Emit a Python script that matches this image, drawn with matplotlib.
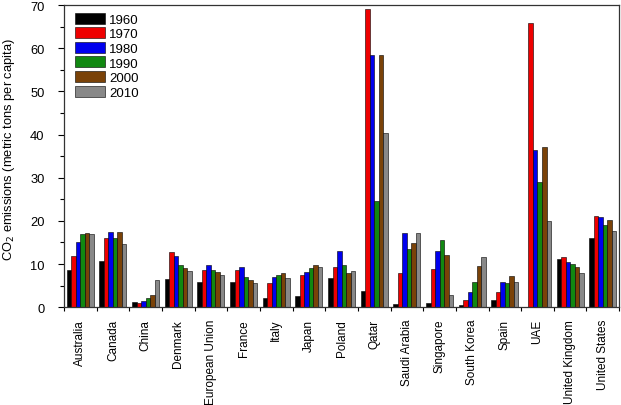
import numpy as np
import matplotlib
matplotlib.use("Agg")
import matplotlib.pyplot as plt
from matplotlib.ticker import MultipleLocator, FixedLocator

plt.rcParams['font.family'] = ['Liberation Sans', 'DejaVu Sans']

# data (metric tons per capita)
countries = ['Australia', 'Canada', 'China', 'Denmark', 'European Union', 'France',
             'Italy', 'Japan', 'Poland', 'Qatar', 'Saudi Arabia', 'Singapore',
             'South Korea', 'Spain', 'UAE', 'United Kingdom', 'United States']
years = ['1960', '1970', '1980', '1990', '2000', '2010']

y1960 = [8.6, 10.8, 1.2, 6.6, 5.8, 5.9, 2.2, 2.6, 6.8, 3.7, 0.7, 0.85, 0.5, 1.6, 0.1, 11.2, 16.1]
y1970 = [11.9, 16.1, 0.9, 12.7, 8.5, 8.6, 5.6, 7.4, 9.4, 69.2, 7.9, 8.8, 1.7, 3.5, 65.8, 11.7, 21.1]
y1980 = [15.1, 17.5, 1.5, 11.8, 9.8, 9.2, 7.0, 8.2, 13.1, 58.5, 17.2, 13.1, 3.6, 5.8, 36.4, 10.4, 20.8]
y1990 = [16.9, 16.1, 2.2, 9.7, 8.7, 6.9, 7.4, 9.0, 9.7, 24.7, 13.4, 15.5, 5.8, 5.6, 28.9, 10.0, 19.1]
y2000 = [17.3, 17.4, 2.8, 9.0, 8.1, 6.2, 8.0, 9.7, 7.9, 58.5, 14.8, 12.2, 9.6, 7.3, 37.2, 9.3, 20.3]
y2010 = [17.0, 14.7, 6.3, 8.4, 7.4, 5.6, 6.8, 9.3, 8.3, 40.3, 17.1, 2.8, 11.6, 5.9, 19.9, 8.0, 17.6]

series = [y1960, y1970, y1980, y1990, y2000, y2010]
colors = ['#000000', '#ee0000', '#0000ee', '#118811', '#7a4208', '#888888']

fig = plt.figure(figsize=(6.21, 4.06), dpi=100)
ax = fig.add_axes([0.103, 0.241, 0.894, 0.744])

x = np.arange(len(countries))
w = 0.138
for i, (vals, c) in enumerate(zip(series, colors)):
    ax.bar(x + (i - 2.5) * w, vals, width=w, color=c, edgecolor='black',
           linewidth=0.4, label=years[i])

ax.set_xlim(-0.5, len(countries) - 0.5)
ax.set_ylim(0, 70)
ax.set_xticks(x)
ax.set_xticklabels(countries, rotation=90, fontsize=8.5)
ax.xaxis.set_minor_locator(FixedLocator(np.arange(-0.5, len(countries), 1)))
ax.tick_params(axis='x', which='major', length=0, pad=8.5)
ax.tick_params(axis='x', which='minor', length=3, direction='out', width=0.8)

ax.yaxis.set_major_locator(MultipleLocator(10))
ax.yaxis.set_minor_locator(MultipleLocator(5))
ax.tick_params(axis='y', which='major', length=4, direction='out', labelsize=9.3,
               width=0.8, pad=10)
ax.tick_params(axis='y', which='minor', length=3, direction='out', width=0.8)
ax.set_ylabel('CO$_2$ emissions (metric tons per capita)', fontsize=9.3)
ax.yaxis.set_label_coords(-0.085, 0.525)

for s in ax.spines.values():
    s.set_linewidth(0.9)
    s.set_color('#333333')

ax.legend(loc='upper left', frameon=False, fontsize=9.5, handlelength=2.3,
          handleheight=0.9, labelspacing=0.12, handletextpad=0.3,
          borderaxespad=0.0, borderpad=0.0, bbox_to_anchor=(0.02, 0.975))

fig.savefig('out.png', dpi=100)
